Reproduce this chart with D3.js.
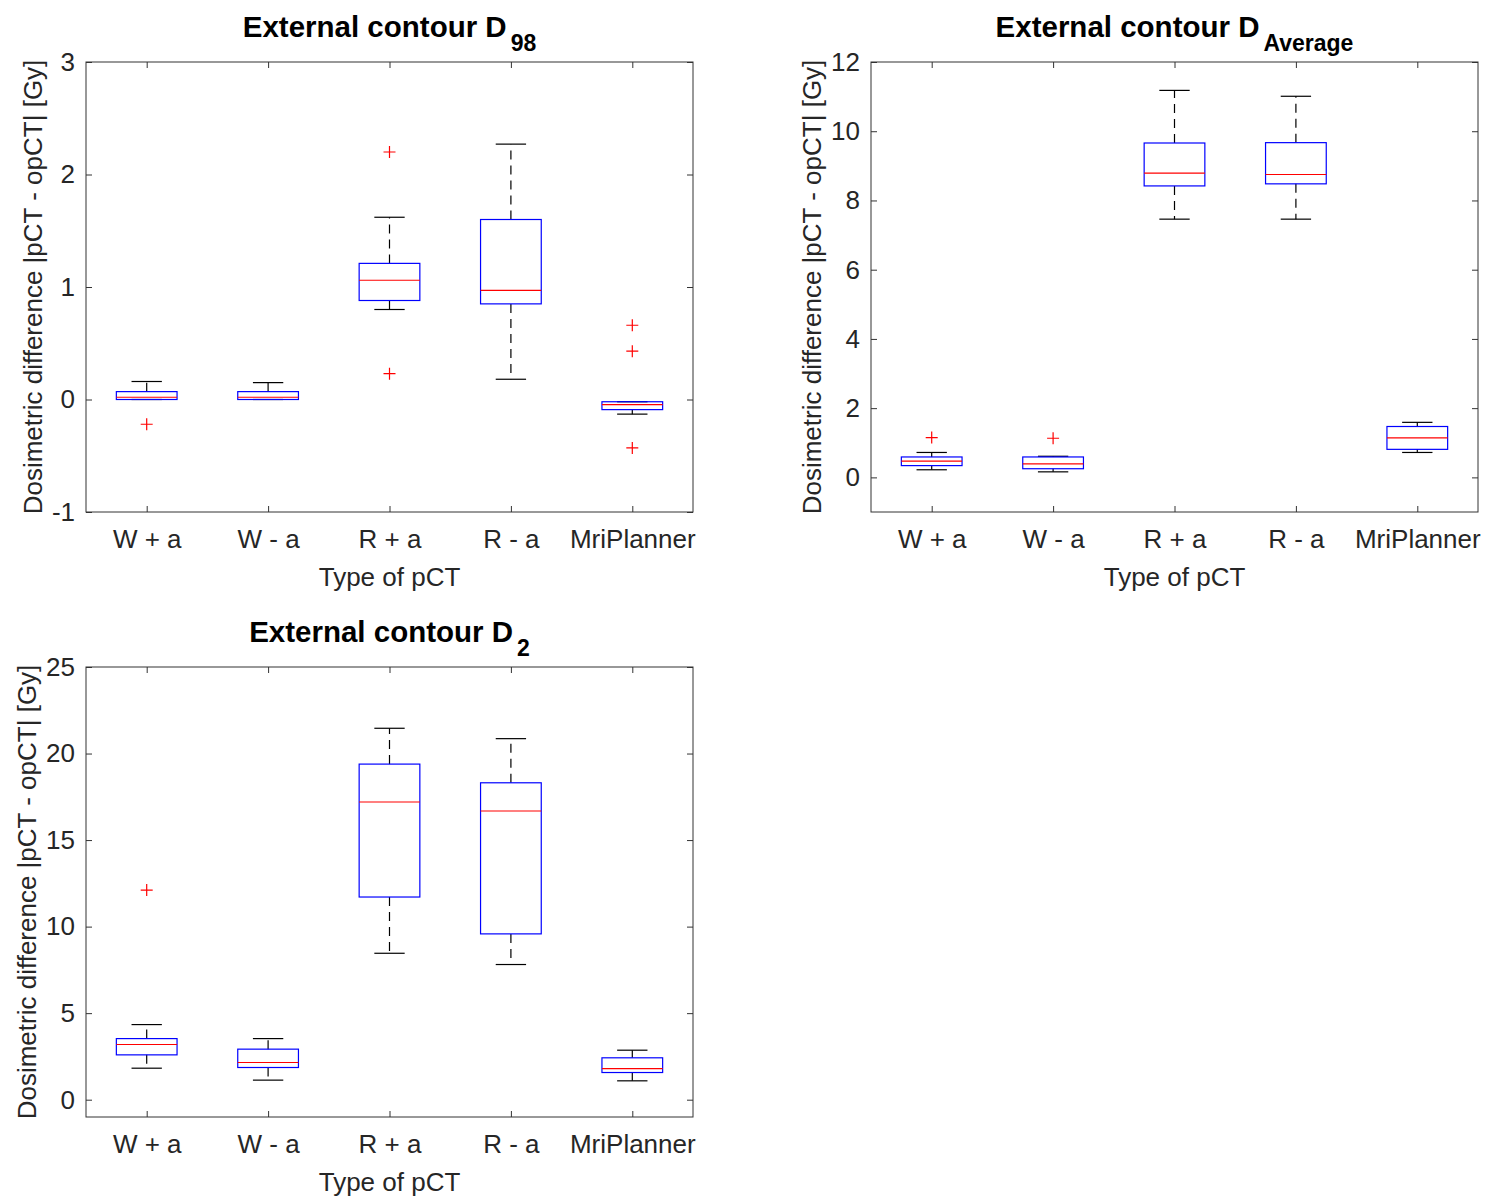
<!DOCTYPE html>
<html>
<head>
<meta charset="utf-8">
<script src="https://cdn.jsdelivr.net/npm/d3@7"></script>
<style>
  html, body { margin: 0; padding: 0; background: #fff; }
  svg { display: block; font-family: "Liberation Sans", Arial, Helvetica, sans-serif; }
</style>
</head>
<body>
<svg id="chart" width="1485" height="1196"></svg>
<script>
// Planning CT types compared against the original planning CT
const categories = ["W + a", "W - a", "R + a", "R - a", "MriPlanner"];

// External contour D98 [Gy]
const d98Low    = [0.00, 0.00, 0.80, 0.18, -0.13];
const d98Q1     = [0.00, 0.00, 0.88, 0.85, -0.09];
const d98Median = [0.02, 0.02, 1.06, 0.97, -0.045];
const d98Q3     = [0.07, 0.07, 1.21, 1.60, -0.02];
const d98High   = [0.16, 0.15, 1.62, 2.27, -0.02];
const d98Out    = [[-0.22], [], [2.20, 0.23], [], [0.66, 0.43, -0.43]];

// External contour D_Average [Gy]
const avgLow    = [0.22, 0.16, 7.46, 7.46, 0.72];
const avgQ1     = [0.34, 0.25, 8.42, 8.48, 0.81];
const avgMedian = [0.47, 0.39, 8.79, 8.75, 1.14];
const avgQ3     = [0.59, 0.59, 9.66, 9.67, 1.47];
const avgHigh   = [0.72, 0.61, 11.18, 11.01, 1.59];
const avgOut    = [[1.15], [1.13], [], [], []];

// External contour D2 [Gy]
const d2Low    = [1.82, 1.13, 8.46, 7.81, 1.09];
const d2Q1     = [2.59, 1.86, 11.71, 9.58, 1.57];
const d2Median = [3.19, 2.15, 17.20, 16.68, 1.80];
const d2Q3     = [3.53, 2.92, 19.39, 18.31, 2.42];
const d2High   = [4.34, 3.53, 21.46, 20.86, 2.86];
const d2Out    = [[12.11], [], [], [], []];

// Y axis settings
const d98Domain = [-1, 3],  d98Ticks = [-1, 0, 1, 2, 3];
const avgDomain = [-1, 12], avgTicks = [0, 2, 4, 6, 8, 10, 12];
const d2Domain  = [-1, 25], d2Ticks  = [0, 5, 10, 15, 20, 25];

const yLabelText = "Dosimetric difference |pCT - opCT| [Gy]";
const xLabelText = "Type of pCT";

const svg = d3.select("#chart");
svg.append("rect").attr("width", 1485).attr("height", 1196).attr("fill", "#fff");

const FRAME = "#333333";
const TEXT = "#262626";
const FS = 26;

function buildStats(low, q1, med, q3, high, out) {
  return categories.map((c, i) => ({
    cat: c, low: low[i], q1: q1[i], med: med[i], q3: q3[i], high: high[i], out: out[i]
  }));
}

function drawPanel(opt) {
  const { left, top, width, height, domain, ticks, stats, titleMain, titleSub } = opt;
  const g = svg.append("g");

  const x = d3.scalePoint().domain(categories).range([left, left + width]).padding(0.5);
  const y = d3.scaleLinear().domain(domain).range([top + height, top]);
  const step = x.step();
  const boxW = step * 0.5;
  const capW = step * 0.25;

  // Left axis with labels, ticks drawn inward (plain hyphen for negatives)
  const yAxis = g.append("g")
    .attr("transform", `translate(${left},0)`)
    .call(d3.axisLeft(y).tickValues(ticks).tickSize(-6).tickSizeOuter(0).tickPadding(11)
      .tickFormat(d => String(d)));
  yAxis.select(".domain").remove();
  yAxis.selectAll("line").attr("stroke", FRAME);
  yAxis.selectAll("text").attr("font-size", FS).attr("fill", TEXT)
    .attr("font-family", "Liberation Sans, Arial, sans-serif");

  // Right side ticks
  const yAxisR = g.append("g")
    .attr("transform", `translate(${left + width},0)`)
    .call(d3.axisRight(y).tickValues(ticks).tickSize(-6).tickSizeOuter(0).tickFormat(""));
  yAxisR.select(".domain").remove();
  yAxisR.selectAll("line").attr("stroke", FRAME);

  // Bottom axis with category labels
  const xAxis = g.append("g")
    .attr("transform", `translate(0,${top + height})`)
    .call(d3.axisBottom(x).tickSize(-6).tickSizeOuter(0).tickPadding(18));
  xAxis.select(".domain").remove();
  xAxis.selectAll("line").attr("stroke", FRAME);
  xAxis.selectAll("text").attr("font-size", FS).attr("fill", TEXT)
    .attr("font-family", "Liberation Sans, Arial, sans-serif");

  // Top ticks
  const xAxisT = g.append("g")
    .attr("transform", `translate(0,${top})`)
    .call(d3.axisTop(x).tickSize(-6).tickSizeOuter(0).tickFormat(""));
  xAxisT.select(".domain").remove();
  xAxisT.selectAll("line").attr("stroke", FRAME);

  // Axes box
  g.append("rect")
    .attr("x", left).attr("y", top).attr("width", width).attr("height", height)
    .attr("fill", "none").attr("stroke", FRAME).attr("stroke-width", 1);

  // Box plots
  const boxes = g.append("g").selectAll("g").data(stats).join("g");

  // Dashed whiskers
  boxes.append("line")
    .attr("x1", d => x(d.cat)).attr("x2", d => x(d.cat))
    .attr("y1", d => y(d.q3)).attr("y2", d => y(d.high))
    .attr("stroke", "#000").attr("stroke-width", 1.2).attr("stroke-dasharray", "9,6");
  boxes.append("line")
    .attr("x1", d => x(d.cat)).attr("x2", d => x(d.cat))
    .attr("y1", d => y(d.q1)).attr("y2", d => y(d.low))
    .attr("stroke", "#000").attr("stroke-width", 1.2).attr("stroke-dasharray", "9,6");

  // Whisker caps
  boxes.append("line")
    .attr("x1", d => x(d.cat) - capW / 2).attr("x2", d => x(d.cat) + capW / 2)
    .attr("y1", d => y(d.high)).attr("y2", d => y(d.high))
    .attr("stroke", "#000").attr("stroke-width", 1.2);
  boxes.append("line")
    .attr("x1", d => x(d.cat) - capW / 2).attr("x2", d => x(d.cat) + capW / 2)
    .attr("y1", d => y(d.low)).attr("y2", d => y(d.low))
    .attr("stroke", "#000").attr("stroke-width", 1.2);

  // Interquartile box
  boxes.append("rect")
    .attr("x", d => x(d.cat) - boxW / 2).attr("width", boxW)
    .attr("y", d => y(d.q3)).attr("height", d => y(d.q1) - y(d.q3))
    .attr("fill", "none").attr("stroke", "#0000ff").attr("stroke-width", 1.2);

  // Median
  boxes.append("line")
    .attr("x1", d => x(d.cat) - boxW / 2).attr("x2", d => x(d.cat) + boxW / 2)
    .attr("y1", d => y(d.med)).attr("y2", d => y(d.med))
    .attr("stroke", "#ff0000").attr("stroke-width", 1.2);

  // Outliers as '+' markers
  const m = 6;
  boxes.each(function (d) {
    const sel = d3.select(this);
    d.out.forEach(v => {
      const cx = x(d.cat), cy = y(v);
      sel.append("path")
        .attr("d", `M${cx - m},${cy}H${cx + m}M${cx},${cy - m}V${cy + m}`)
        .attr("stroke", "#ff0000").attr("stroke-width", 1.2).attr("fill", "none");
    });
  });

  // Title with subscript
  const title = g.append("text")
    .attr("x", left + width / 2).attr("y", top - 25)
    .attr("text-anchor", "middle").attr("font-weight", "bold")
    .attr("font-size", 29.5).attr("fill", "#000");
  title.append("tspan").text(titleMain);
  title.append("tspan").attr("font-size", 23).attr("dx", 4).attr("dy", 14).text(titleSub);

  // X axis label
  g.append("text")
    .attr("x", left + width / 2).attr("y", top + height + 74)
    .attr("text-anchor", "middle").attr("font-size", FS).attr("fill", TEXT)
    .text(xLabelText);

  // Y axis label placed left of the tick labels
  const tickBoxes = yAxis.selectAll("text").nodes().map(n => n.getBBox());
  const tickLeft = left - 11 - d3.max(tickBoxes, b => b.width);
  g.append("text")
    .attr("transform", `translate(${tickLeft - 19},${top + height / 2}) rotate(-90)`)
    .attr("dy", "0.35em")
    .attr("text-anchor", "middle").attr("font-size", FS).attr("fill", TEXT)
    .text(yLabelText);
}

drawPanel({
  left: 86, top: 62, width: 607, height: 450,
  domain: d98Domain, ticks: d98Ticks,
  stats: buildStats(d98Low, d98Q1, d98Median, d98Q3, d98High, d98Out),
  titleMain: "External contour D", titleSub: "98"
});

drawPanel({
  left: 871, top: 62, width: 607, height: 450,
  domain: avgDomain, ticks: avgTicks,
  stats: buildStats(avgLow, avgQ1, avgMedian, avgQ3, avgHigh, avgOut),
  titleMain: "External contour D", titleSub: "Average"
});

drawPanel({
  left: 86, top: 667, width: 607, height: 450,
  domain: d2Domain, ticks: d2Ticks,
  stats: buildStats(d2Low, d2Q1, d2Median, d2Q3, d2High, d2Out),
  titleMain: "External contour D", titleSub: "2"
});
</script>
</body>
</html>
